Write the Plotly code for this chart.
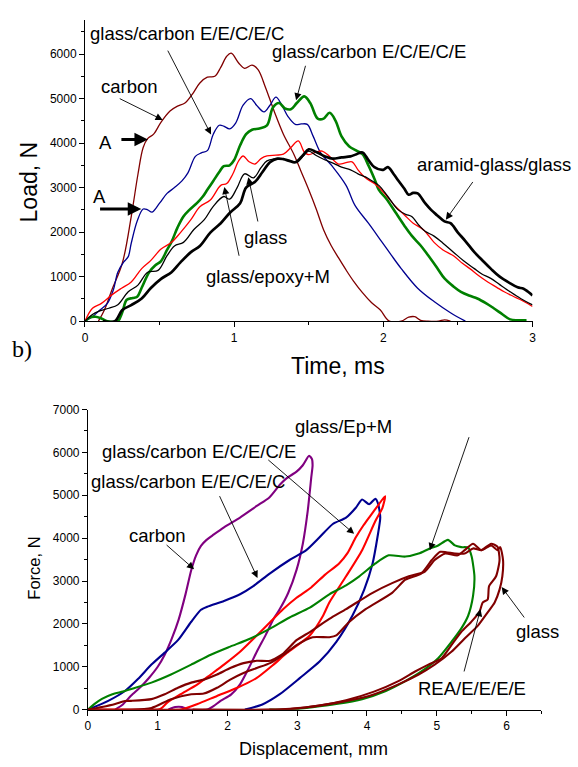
import plotly.graph_objects as go

# ---------------- top panel: Load vs Time ----------------
carbon_t = [0.09, 0.13, 0.18, 0.25, 0.31, 0.355, 0.39, 0.42, 0.46, 0.51, 0.57, 0.62, 0.67, 0.72, 0.77, 0.82, 0.87, 0.91, 0.95, 0.98, 1.03, 1.07, 1.12, 1.16, 1.21, 1.27, 1.33, 1.40, 1.45, 1.50, 1.55, 1.60, 1.65, 1.70, 1.75, 1.80, 1.86, 1.92, 1.98, 2.04, 2.12, 2.17, 2.21, 2.25, 2.30, 2.37, 2.41, 2.45]
carbon_L = [0, 250, 700, 1300, 2350, 3300, 3900, 4100, 4200, 4470, 4720, 4830, 4900, 5100, 5350, 5480, 5500, 5700, 5950, 6020, 5800, 5680, 5750, 5650, 5250, 4700, 4200, 3750, 3350, 2950, 2520, 2050, 1700, 1420, 1150, 900, 640, 420, 250, 0, 0, 90, 100, 20, 0, 0, 30, 0]

blue_t = [0, 0.05, 0.10, 0.15, 0.19, 0.22, 0.26, 0.29, 0.31, 0.35, 0.39, 0.42, 0.45, 0.50, 0.55, 0.60, 0.65, 0.69, 0.74, 0.78, 0.82, 0.86, 0.90, 0.93, 0.97, 1.01, 1.06, 1.11, 1.15, 1.20, 1.24, 1.28, 1.32, 1.36, 1.41, 1.45, 1.49, 1.53, 1.58, 1.66, 1.75, 1.81, 1.90, 1.99, 2.05, 2.12, 2.23, 2.34, 2.45, 2.55]
blue_L = [0, 100, 250, 400, 700, 1100, 1330, 1450, 1750, 2250, 2520, 2500, 2450, 2650, 2870, 3000, 3150, 3330, 3700, 3780, 3830, 4200, 4400, 4380, 4320, 4450, 4850, 5000, 4850, 4700, 4850, 5030, 4850, 4600, 4420, 4430, 4420, 4150, 3780, 3470, 3050, 2600, 2200, 1780, 1500, 1180, 740, 440, 190, 0]

green_t = [0, 0.03, 0.07, 0.11, 0.15, 0.22, 0.25, 0.28, 0.32, 0.35, 0.38, 0.43, 0.47, 0.51, 0.55, 0.58, 0.62, 0.66, 0.70, 0.75, 0.79, 0.82, 0.86, 0.90, 0.93, 0.97, 1.00, 1.04, 1.08, 1.12, 1.17, 1.22, 1.26, 1.30, 1.34, 1.38, 1.42, 1.47, 1.51, 1.56, 1.60, 1.64, 1.68, 1.72, 1.77, 1.82, 1.86, 1.90, 1.94, 1.97, 2.02, 2.08, 2.14, 2.19, 2.25, 2.30, 2.36, 2.41, 2.47, 2.52, 2.58, 2.63, 2.69, 2.74, 2.80, 2.85, 2.90, 2.96]
green_L = [0, 80, 100, 60, 0, 0, 200, 480, 520, 550, 750, 1100, 1250, 1350, 1600, 1780, 2100, 2350, 2500, 2650, 2800, 2950, 3150, 3350, 3480, 3500, 3620, 3950, 4200, 4300, 4330, 4400, 4800, 4900, 4780, 4760, 4900, 5050, 4900, 4550, 4550, 4680, 4500, 4150, 3930, 3830, 3750, 3500, 3200, 2950, 2750, 2450, 2150, 1920, 1700, 1480, 1200, 960, 780, 660, 570, 510, 400, 290, 150, 40, 20, 20]

red_t = [0, 0.05, 0.11, 0.18, 0.245, 0.31, 0.38, 0.44, 0.51, 0.58, 0.64, 0.71, 0.77, 0.84, 0.91, 0.95, 0.99, 1.03, 1.06, 1.10, 1.14, 1.18, 1.22, 1.28, 1.33, 1.38, 1.43, 1.47, 1.50, 1.55, 1.59, 1.64, 1.70, 1.75, 1.79, 1.83, 1.88, 1.94, 2.00, 2.05, 2.08, 2.14, 2.20, 2.27, 2.34, 2.40, 2.47, 2.53, 2.58, 2.64, 2.70, 2.76, 2.81, 2.87, 2.92, 2.97, 3.0]
red_L = [0, 290, 400, 590, 740, 880, 1180, 1360, 1620, 1770, 1990, 2280, 2570, 2720, 3050, 3090, 3300, 3600, 3710, 3580, 3530, 3650, 3710, 3730, 3750, 3900, 4050, 3800, 3740, 3800, 3820, 3700, 3530, 3560, 3580, 3400, 3220, 3090, 2900, 2700, 2580, 2390, 2200, 2050, 1770, 1600, 1470, 1300, 1180, 1020, 880, 760, 660, 560, 480, 390, 330]

glass_t = [0, 0.05, 0.09, 0.16, 0.22, 0.29, 0.355, 0.42, 0.49, 0.55, 0.60, 0.66, 0.73, 0.80, 0.86, 0.93, 0.97, 1.02, 1.07, 1.13, 1.18, 1.22, 1.27, 1.33, 1.38, 1.42, 1.46, 1.50, 1.55, 1.61, 1.67, 1.72, 1.78, 1.83, 1.88, 1.92, 1.97, 2.03, 2.10, 2.15, 2.19, 2.24, 2.28, 2.34, 2.40, 2.47, 2.54, 2.61, 2.66, 2.72, 2.78, 2.85, 2.92, 3.0]
glass_L = [0, 150, 220, 290, 370, 660, 810, 1100, 1140, 1470, 1690, 1770, 2060, 2280, 2580, 2800, 2740, 3000, 3310, 3220, 3450, 3600, 3640, 3640, 3600, 3570, 3700, 3820, 3720, 3620, 3540, 3460, 3400, 3310, 3240, 3160, 3050, 2800, 2500, 2400, 2350, 2150, 2020, 1910, 1750, 1550, 1350, 1180, 1060, 960, 820, 660, 510, 365]

aramid_t = [0.12, 0.20, 0.25, 0.31, 0.38, 0.44, 0.51, 0.58, 0.64, 0.71, 0.77, 0.84, 0.91, 0.97, 1.04, 1.08, 1.14, 1.19, 1.24, 1.29, 1.33, 1.37, 1.41, 1.46, 1.50, 1.55, 1.61, 1.66, 1.72, 1.78, 1.82, 1.86, 1.90, 1.94, 2.00, 2.03, 2.07, 2.10, 2.14, 2.17, 2.20, 2.23, 2.28, 2.32, 2.36, 2.41, 2.45, 2.50, 2.55, 2.61, 2.66, 2.72, 2.78, 2.85, 2.90, 2.94, 2.97, 3.0]
aramid_L = [0, 0, 250, 360, 510, 740, 950, 1100, 1320, 1550, 1690, 1990, 2200, 2430, 2650, 3000, 3130, 3350, 3570, 3650, 3640, 3600, 3570, 3720, 3860, 3800, 3700, 3650, 3680, 3700, 3750, 3790, 3620, 3460, 3400, 3460, 3300, 3160, 2980, 2840, 2880, 2870, 2650, 2500, 2380, 2240, 2200, 1990, 1800, 1550, 1380, 1180, 1000, 850, 760, 730, 660, 580]

top_series = [
    ("carbon", carbon_t, carbon_L, "#800000", 1.3),
    ("glass/carbon E/E/C/E/C", blue_t, blue_L, "#000090", 1.3),
    ("glass/carbon E/C/E/C/E", green_t, green_L, "#008000", 2.6),
    ("glass/epoxy+M", red_t, red_L, "#ff0000", 1.3),
    ("glass", glass_t, glass_L, "#000000", 1.3),
    ("aramid-glass/glass", aramid_t, aramid_L, "#000000", 2.7),
]

# ---------------- bottom panel: Force vs Displacement ----------------
purple_d = [0.39, 0.50, 0.62, 0.75, 0.88, 1.00, 1.10, 1.20, 1.30, 1.40, 1.48, 1.55, 1.62, 1.70, 1.80, 1.95, 2.18, 2.42, 2.60, 2.75, 2.85, 2.99, 3.08, 3.17, 3.21, 3.22, 3.20, 3.15, 3.08, 2.99, 2.87, 2.75, 2.66, 2.55, 2.42, 2.30, 2.18, 2.05, 1.90, 1.80, 1.71, 1.45, 1.35, 1.25, 1.15]
purple_F = [0, 120, 330, 520, 750, 1000, 1280, 1650, 2100, 2700, 3250, 3600, 3820, 3960, 4080, 4250, 4480, 4750, 4950, 5245, 5400, 5550, 5700, 5920, 5850, 5700, 5400, 4630, 3870, 3260, 2720, 2345, 2115, 1750, 1350, 950, 590, 350, 205, 80, 0, 0, 60, 60, 0]

navy_d = [0, 0.29, 0.53, 0.72, 0.91, 1.10, 1.29, 1.48, 1.62, 1.71, 1.95, 2.18, 2.37, 2.61, 2.89, 3.13, 3.32, 3.51, 3.70, 3.84, 3.93, 4.03, 4.12, 4.16, 4.19, 4.15, 4.08, 3.96, 3.79, 3.56, 3.32, 3.04, 2.75, 2.50, 2.25]
navy_F = [0, 205, 435, 720, 1050, 1330, 1620, 2050, 2330, 2400, 2535, 2690, 2880, 3180, 3490, 3720, 4020, 4330, 4480, 4710, 4900, 4790, 4920, 4800, 4480, 4020, 3410, 2800, 2190, 1580, 1120, 740, 360, 120, 0]

redb_d = [0, 0.5, 1.0, 1.05, 1.14, 1.33, 1.57, 1.76, 1.95, 2.18, 2.42, 2.61, 2.80, 2.99, 3.20, 3.40, 3.60, 3.72, 3.84, 3.95, 4.03, 4.17, 4.26, 4.22, 4.12, 3.93, 3.70, 3.46, 3.37, 3.18, 2.85, 2.66, 2.42, 2.14, 1.85, 1.57, 1.33, 0.9]
redb_F = [0, 0, 0, 30, 170, 360, 590, 820, 1050, 1350, 1730, 2040, 2345, 2610, 2850, 3150, 3410, 3650, 4020, 4300, 4480, 4790, 4980, 4700, 4400, 3720, 3110, 2500, 2190, 1730, 1320, 1050, 740, 510, 320, 130, 0, 0]

greenb_d = [0, 0.10, 0.20, 0.35, 0.50, 0.62, 0.91, 1.19, 1.48, 1.76, 2.04, 2.33, 2.61, 2.89, 3.18, 3.46, 3.70, 3.89, 4.12, 4.31, 4.55, 4.74, 4.90, 5.02, 5.16, 5.26, 5.35, 5.45, 5.50, 5.54, 5.52, 5.45, 5.35, 5.21, 5.02, 4.78, 4.55, 4.27, 3.93, 3.56, 3.22, 2.90, 2.60]
greenb_F = [0, 140, 250, 360, 420, 480, 630, 820, 1050, 1280, 1470, 1660, 1890, 2150, 2380, 2690, 2900, 3110, 3410, 3600, 3570, 3640, 3760, 3830, 3960, 3830, 3790, 3780, 3570, 3110, 2650, 2190, 1890, 1580, 1200, 890, 665, 435, 245, 130, 55, 0, 0]

glassb_d = [0, 0.20, 0.39, 0.53, 0.62, 0.91, 1.10, 1.29, 1.48, 1.66, 1.85, 2.04, 2.23, 2.42, 2.61, 2.80, 2.99, 3.18, 3.46, 3.70, 4.08, 4.36, 4.60, 4.83, 4.97, 5.12, 5.30, 5.40, 5.52, 5.64, 5.78, 5.87, 5.91, 5.95, 5.94, 5.90, 5.83, 5.73, 5.59, 5.40, 5.21, 4.97, 4.74, 4.45, 4.03, 3.60, 3.13, 2.80, 1.50]
glassb_F = [0, 60, 130, 200, 205, 245, 360, 510, 630, 700, 820, 970, 1085, 1140, 1140, 1310, 1620, 1810, 2115, 2345, 2725, 2950, 3110, 3220, 3490, 3640, 3600, 3720, 3870, 3720, 3830, 3720, 3790, 3490, 3110, 2800, 2500, 2270, 1960, 1660, 1350, 1050, 820, 590, 320, 170, 55, 0, 0]

rea_d = [0, 0.60, 0.91, 1.19, 1.48, 1.66, 1.85, 2.04, 2.23, 2.42, 2.61, 2.80, 2.99, 3.22, 3.46, 3.56, 3.74, 3.98, 4.36, 4.55, 4.78, 4.93, 5.05, 5.26, 5.40, 5.52, 5.64, 5.78, 5.87, 5.90, 5.85, 5.75, 5.73, 5.66, 5.61, 5.49, 5.35, 5.21, 5.07, 4.88, 4.69, 4.45, 4.10, 3.70, 3.30, 2.90, 2.60, 0.70]
rea_F = [0, 0, 40, 245, 360, 375, 510, 700, 855, 970, 1085, 1275, 1505, 1690, 1690, 1730, 2040, 2345, 2725, 3030, 3180, 3490, 3680, 3640, 3640, 3760, 3720, 3870, 3800, 3490, 3110, 2880, 2570, 2500, 2270, 2040, 1810, 1505, 1200, 1050, 890, 665, 420, 220, 90, 20, 0, 0]

bottom_series = [
    ("carbon", purple_d, purple_F, "#800080"),
    ("glass/carbon E/E/C/E/C", navy_d, navy_F, "#000090"),
    ("glass/carbon E/C/E/C/E", redb_d, redb_F, "#ff0000"),
    ("glass/Ep+M", greenb_d, greenb_F, "#008000"),
    ("glass", glassb_d, glassb_F, "#800000"),
    ("REA/E/E/E/E", rea_d, rea_F, "#800000"),
]

# label text: (text, x, y) in data units of each panel
top_labels = [
    ("glass/carbon E/E/C/E/C", 0.685, 6460),
    ("carbon", 0.296, 5270),
    ("A", 0.139, 4020),
    ("A", 0.099, 2800),
    ("glass/carbon E/C/E/C/E", 1.904, 6060),
    ("aramid-glass/glass", 2.745, 3510),
    ("glass", 1.21, 1870),
    ("glass/epoxy+M", 1.23, 1010),
]
# arrows: (tail_x, tail_y, tip_x, tip_y, width)
top_arrows = [
    (0.55, 6110, 0.845, 4190, 0.9),
    (0.223, 5015, 0.521, 4520, 0.9),
    (0.234, 4080, 0.422, 4080, 3.0),
    (0.091, 2520, 0.377, 2520, 3.0),
    (1.481, 5770, 1.415, 4960, 0.9),
    (2.607, 3160, 2.419, 2280, 0.9),
    (1.161, 2205, 1.095, 3235, 0.9),
    (1.035, 1435, 0.934, 3015, 0.9),
]
bottom_labels = [
    ("glass/Ep+M", 3.66, 6610),
    ("glass/carbon E/C/E/C/E", 1.589, 6015),
    ("glass/carbon E/E/C/E/C", 1.428, 5330),
    ("carbon", 0.99, 4070),
    ("glass", 6.44, 1825),
    ("REA/E/E/E/E", 5.50, 500),
]
bottom_arrows = [
    (2.563, 5855, 3.816, 4100),
    (1.877, 5015, 2.43, 3070),
    (1.106, 3870, 1.522, 3275),
    (5.47, 6390, 4.90, 3720),
    (6.27, 2115, 5.93, 2860),
    (5.386, 855, 5.627, 2345),
]

W, H = 578, 767
FONT = "Liberation Sans, Arial, sans-serif"

fig = go.Figure()
for name, xs, ys, col, w in top_series:
    fig.add_trace(go.Scatter(x=xs, y=ys, mode="lines", name=name, xaxis="x", yaxis="y",
                             line=dict(color=col, width=w, shape="spline", smoothing=1.0)))
for name, xs, ys, col in bottom_series:
    fig.add_trace(go.Scatter(x=xs, y=ys, mode="lines", name=name, xaxis="x2", yaxis="y2",
                             line=dict(color=col, width=2.1, shape="spline", smoothing=0.6)))

def ax_common(**kw):
    d = dict(showline=True, linecolor="black", linewidth=1, ticks="outside", ticklen=5,
             tickwidth=1, tickcolor="black", showgrid=False, zeroline=False,
             tickfont=dict(family=FONT, size=12, color="black"))
    d.update(kw)
    return d

fig.update_layout(
    width=W, height=H, margin=dict(l=0, r=0, t=0, b=0),
    plot_bgcolor="white", paper_bgcolor="white", showlegend=False,
    font=dict(family=FONT, color="black"),
    xaxis=ax_common(domain=[83 / W, 536 / W], range=[0, 3], dtick=1, anchor="y",
                    minor=dict(dtick=0.5, ticklen=3, ticks="outside", tickcolor="black")),
    yaxis=ax_common(domain=[1 - 320 / H, 1 - 13 / H], range=[0, 6770], dtick=1000, anchor="x",
                    minor=dict(dtick=500, ticklen=3, ticks="outside", tickcolor="black")),
    xaxis2=ax_common(domain=[86 / W, 545 / W], range=[0, 6.5], dtick=1, anchor="y2",
                     minor=dict(dtick=0.5, ticklen=3, ticks="outside", tickcolor="black")),
    yaxis2=ax_common(domain=[1 - 715.7 / H, 1 - 410 / H], range=[0, 7000], dtick=1000, anchor="x2",
                     minor=dict(dtick=500, ticklen=3, ticks="outside", tickcolor="black")),
)

ann = []
for txt, x, y in top_labels:
    ann.append(dict(text=txt, x=x, y=y, xref="x", yref="y", showarrow=False,
                    font=dict(family=FONT, size=18.5, color="black")))
for tx, ty, hx, hy, w in top_arrows:
    ann.append(dict(text="", x=hx, y=hy, ax=tx, ay=ty, xref="x", yref="y", axref="x", ayref="y",
                    showarrow=True, arrowhead=2, arrowsize=1.6 if w < 2 else 0.9,
                    arrowwidth=w, arrowcolor="black"))
for txt, x, y in bottom_labels:
    ann.append(dict(text=txt, x=x, y=y, xref="x2", yref="y2", showarrow=False,
                    font=dict(family=FONT, size=18.5, color="black")))
for tx, ty, hx, hy in bottom_arrows:
    ann.append(dict(text="", x=hx, y=hy, ax=tx, ay=ty, xref="x2", yref="y2", axref="x2", ayref="y2",
                    showarrow=True, arrowhead=2, arrowsize=1.6, arrowwidth=0.9, arrowcolor="black"))

def paper(px, py):
    return px / W, 1 - py / H

# axis titles and panel letter
for txt, px, py, size, ang, fam in [
    ("Time, ms", 339.5, 366, 23, 0, FONT),
    ("Load, N", 26, 178, 23, -90, FONT),
    ("Displacement, mm", 314.5, 756, 18, 0, FONT),
    ("Force, N", 31, 571.5, 16.5, -90, FONT),
    ("b)", 19, 348, 24, 0, "Liberation Serif, Times New Roman, serif"),
]:
    x, y = paper(px, py)
    ann.append(dict(text=txt, x=x, y=y, xref="paper", yref="paper", showarrow=False,
                    textangle=ang, xanchor="center", yanchor="middle",
                    font=dict(family=fam, size=size, color="black")))

fig.update_layout(annotations=ann)
fig.write_html("out.html")
